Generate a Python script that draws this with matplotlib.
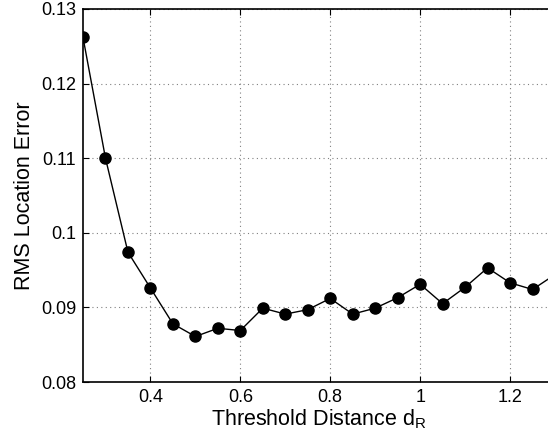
import numpy as np
from matplotlib import pyplot as plt

plt.rcParams['font.family'] = ['Liberation Sans', 'DejaVu Sans']
plt.rcParams['mathtext.fontset'] = 'custom'
plt.rcParams['mathtext.rm'] = 'Liberation Sans'

d_r = [0.25, 0.30, 0.35, 0.40, 0.45, 0.50, 0.55, 0.60, 0.65, 0.70, 0.75,
       0.80, 0.85, 0.90, 0.95, 1.00, 1.05, 1.10, 1.15, 1.20, 1.25, 1.30]
rms_err = [0.1262, 0.1100, 0.0974, 0.0926, 0.0878, 0.0861, 0.0872, 0.0869,
           0.0899, 0.0891, 0.0897, 0.0912, 0.0891, 0.0899, 0.0913, 0.0931,
           0.0905, 0.0927, 0.0953, 0.0933, 0.0924, 0.0944]

fig = plt.figure(figsize=(5.48, 4.36), dpi=100)
# axes run past the right edge of the figure, like the cropped original
ax = fig.add_axes([83/548, 54/436, 472/548, 373/436])
ax.plot(d_r, rms_err, color='black', linewidth=1, marker='o', markersize=8)
ax.set_xlim(0.25, 1.3)
ax.set_ylim(0.08, 0.13)
ax.set_xticks([0.4, 0.6, 0.8, 1.0, 1.2])
ax.set_xticklabels(['0.4', '0.6', '0.8', '1', '1.2'])
ax.set_yticks([0.08, 0.09, 0.10, 0.11, 0.12, 0.13])
ax.set_yticklabels(['0.08', '0.09', '0.1', '0.11', '0.12', '0.13'])
ax.grid(True, linestyle=(0, (1, 3)), color='#808080', linewidth=0.8)
ax.tick_params(direction='in', length=4, labelsize=13, top=True, right=True, pad=5)
for s in ax.spines.values():
    s.set_linewidth(1.2)
ax.set_xlabel('Threshold Distance d$_\\mathrm{R}$', fontsize=15.5, labelpad=1)
ax.set_ylabel('RMS Location Error', fontsize=15.5, labelpad=4)

plt.savefig('out.png', dpi=100)
